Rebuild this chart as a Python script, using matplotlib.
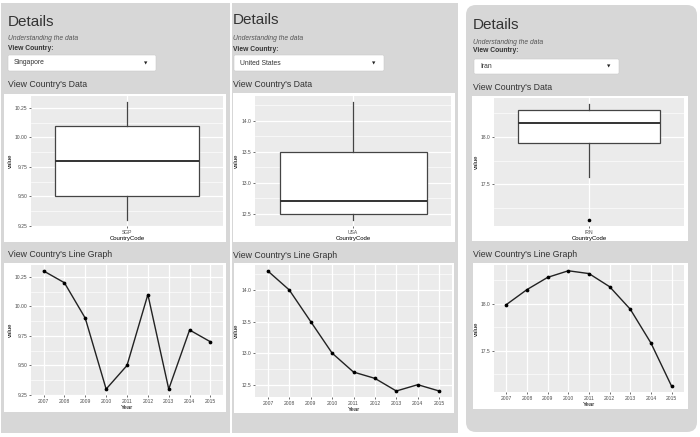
import matplotlib
matplotlib.use('Agg')
import matplotlib.pyplot as plt
from matplotlib.patches import Rectangle, FancyBboxPatch
import numpy as np

plt.rcParams['font.family'] = ['Liberation Sans', 'DejaVu Sans']

# ---------------- data ----------------
years = [2007, 2008, 2009, 2010, 2011, 2012, 2013, 2014, 2015]
countries = ['Singapore', 'United States', 'Iran']
codes = ['SGP', 'USA', 'IRN']
sgp_values = [10.3, 10.2, 9.9, 9.3, 9.5, 10.1, 9.3, 9.8, 9.7]
usa_values = [14.3, 14.0, 13.5, 13.0, 12.7, 12.6, 12.4, 12.5, 12.4]
irn_values = [17.99, 18.15, 18.28, 18.35, 18.32, 18.18, 17.94, 17.58, 17.12]
sgp_ticks = [9.25, 9.50, 9.75, 10.00, 10.25]
usa_ticks = [12.5, 13.0, 13.5, 14.0]
irn_ticks = [17.5, 18.0]
sgp_labels = ['9.25', '9.50', '9.75', '10.00', '10.25']
usa_labels = ['12.5', '13.0', '13.5', '14.0']
irn_labels = ['17.5', '18.0']

series = [sgp_values, usa_values, irn_values]
tick_sets = [sgp_ticks, usa_ticks, irn_ticks]
label_sets = [sgp_labels, usa_labels, irn_labels]

# ---------------- layout (pixels) ----------------
W, H = 700, 437
PANEL_BG = '#D7D7D7'
TXT = '#333333'

layouts = [
    dict(bg=(1, 3, 229.5, 433), rounded=False, tx=8,
         det=26, sub=39.5, vc=50, dd=(8, 55, 156, 71), dd_txt=64.5,
         data=87, box_card=(4, 94, 226, 242), box_ax=(31, 96, 223, 226),
         lg=257, line_card=(4, 263, 226, 412), line_ax=(31, 265, 223, 395)),
    dict(bg=(232, 3, 458, 433), rounded=False, tx=233,
         det=23.5, sub=40, vc=51, dd=(234, 55, 384, 71), dd_txt=65,
         data=87, box_card=(233, 93, 455, 242), box_ax=(255, 96, 451, 226),
         lg=257.5, line_card=(234, 263, 454, 413), line_ax=(255, 265, 452, 397)),
    dict(bg=(466, 5, 697, 432), rounded=True, tx=473,
         det=29, sub=44, vc=52.5, dd=(474, 59, 619, 74), dd_txt=68.5,
         data=90.5, box_card=(472, 96, 688, 241), box_ax=(494, 98, 684, 226),
         lg=257, line_card=(473, 263, 688, 409), line_ax=(494, 265, 684, 392)),
]

fig = plt.figure(figsize=(W / 100, H / 100), dpi=100)
fig.patch.set_facecolor('white')
bg = fig.add_axes([0, 0, 1, 1])
bg.set_xlim(0, W)
bg.set_ylim(H, 0)
bg.axis('off')


def add_px_axes(box):
    x0, y0, x1, y1 = box
    return fig.add_axes([x0 / W, 1 - y1 / H, (x1 - x0) / W, (y1 - y0) / H])


def rect(box, color, radius=0.0, ec='none', lw=0):
    x0, y0, x1, y1 = box
    if radius > 0:
        p = FancyBboxPatch((x0 + radius, y0 + radius), x1 - x0 - 2 * radius, y1 - y0 - 2 * radius,
                           boxstyle=f'round,pad={radius}', fc=color, ec=ec, lw=lw)
    else:
        p = Rectangle((x0, y0), x1 - x0, y1 - y0, fc=color, ec=ec, lw=lw)
    bg.add_patch(p)


def gg_style(ax, vals, ticks, labels):
    ax.set_facecolor('#EBEBEB')
    for s in ax.spines.values():
        s.set_visible(False)
    lo, hi = min(vals), max(vals)
    r = hi - lo
    ax.set_ylim(lo - 0.05 * r, hi + 0.05 * r)
    ax.set_yticks(ticks)
    ax.set_yticklabels(labels)
    step = ticks[1] - ticks[0]
    mn = np.arange(ticks[0] - step * 2.5, ticks[-1] + step * 2.5, step)
    mn = [m for m in mn if lo - 0.05 * r <= m <= hi + 0.05 * r]
    ax.set_yticks(mn, minor=True)
    ax.tick_params(axis='both', which='major', length=1.6, width=0.5, color='#333333',
                   labelsize=3.6, labelcolor='#4D4D4D', pad=1)
    ax.tick_params(axis='both', which='minor', length=0)
    ax.set_axisbelow(True)
    ax.grid(which='major', color='white', lw=0.9)
    ax.grid(which='minor', axis='y', color='white', lw=0.45)


for i, L in enumerate(layouts):
    vals = series[i]
    rect(L['bg'], PANEL_BG, radius=10 if L['rounded'] else 0)
    tx = L['tx']
    bg.text(tx, L['det'], 'Details', fontsize=11, color=TXT, va='baseline')
    bg.text(tx, L['sub'], 'Understanding the data', fontsize=4.9, style='italic', color='#555555', va='baseline')
    bg.text(tx, L['vc'], 'View Country:', fontsize=4.9, weight='bold', color=TXT, va='baseline')
    rect(L['dd'], 'white', radius=1.5, ec='#CCCCCC', lw=0.4)
    dx0, dy0, dx1, dy1 = L['dd']
    bg.text(dx0 + 6, L['dd_txt'], countries[i], fontsize=4.9, color=TXT, va='baseline')
    bg.text(dx1 - 10, (dy0 + dy1) / 2 + 0.5, '\u25BC', fontsize=3.2, color='#222222',
            va='center', ha='center', family='DejaVu Sans')
    bg.text(tx, L['data'], "View Country's Data", fontsize=6.3, color=TXT, va='baseline')
    bg.text(tx, L['lg'], "View Country's Line Graph", fontsize=6.3, color=TXT, va='baseline')
    rect(L['box_card'], 'white')
    rect(L['line_card'], 'white')

    # boxplot
    ax = add_px_axes(L['box_ax'])
    gg_style(ax, vals, tick_sets[i], label_sets[i])
    ax.boxplot([vals], positions=[0], widths=0.9, patch_artist=True, showcaps=False, whis=1.5,
               boxprops=dict(facecolor='white', edgecolor='#444444', linewidth=0.9),
               whiskerprops=dict(color='#444444', linewidth=0.9),
               medianprops=dict(color='#333333', linewidth=1.4),
               flierprops=dict(marker='o', markerfacecolor='black', markeredgecolor='black',
                               markersize=1.6))
    ax.set_xlim(-0.6, 0.6)
    ax.set_xticks([0])
    ax.set_xticklabels([codes[i]])
    ax.set_xlabel('CountryCode', fontsize=4.3, labelpad=1)
    ax.set_ylabel('value', fontsize=4.3, labelpad=1.5)

    # line graph
    ax2 = add_px_axes(L['line_ax'])
    gg_style(ax2, vals, tick_sets[i], label_sets[i])
    x = np.arange(len(years))
    ax2.plot(x, vals, color='#222222', lw=1.0, marker='o', ms=1.7,
             markerfacecolor='black', markeredgecolor='black')
    ax2.set_xlim(-0.6, len(years) - 0.4)
    ax2.set_xticks(x)
    ax2.set_xticklabels([str(y) for y in years])
    ax2.set_xlabel('Year', fontsize=4.3, labelpad=1)
    ax2.set_ylabel('value', fontsize=4.3, labelpad=1.5)

fig.savefig('out.png', dpi=100, facecolor='white')
